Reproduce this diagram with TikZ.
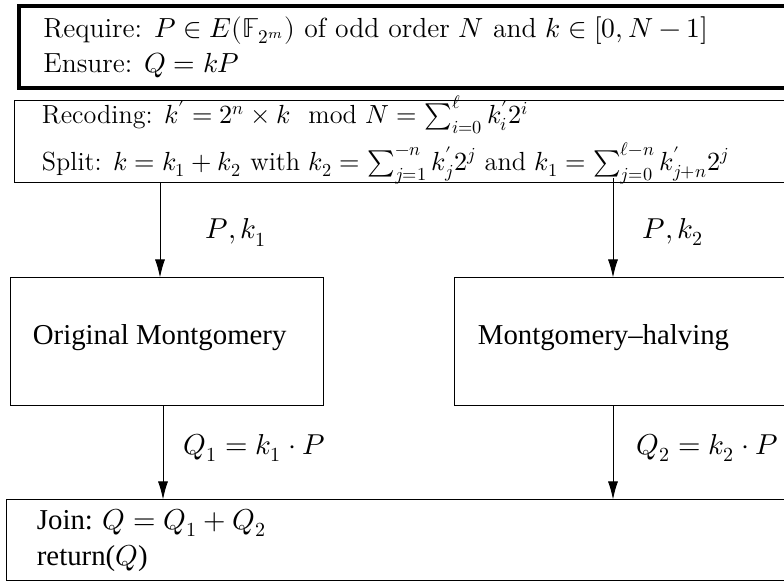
\documentclass[tikz,border=0pt]{standalone}
\usepackage{amsmath}
\usepackage{fontspec}
\usepackage{unicode-math}
\setmathfont{Latin Modern Math}
\newfontfamily\tms{Liberation Serif}
\usetikzlibrary{arrows.meta,positioning,calc}

\begin{document}
\begin{tikzpicture}[x=0.5pt, y=-0.5pt, every node/.style={font=\Large},
    box/.style={draw, line width=0.5pt, rectangle, inner sep=0pt},
    txt/.style={anchor=west, align=left, inner sep=0pt},
    alg/.style={txt, font=\fontsize{13.8}{17.5}\selectfont},
    arr/.style={-{Latex[length=9pt,width=5pt]}, line width=0.5pt},
    lbl/.style={inner sep=0pt}]
    \useasboundingbox (0,0) rectangle (784,583);
    \clip (0,0) rectangle (784,583);

    % input / recoding
    \node[box, line width=2pt, minimum width=390.5pt, minimum height=41pt] (req) at (409.5,47) {};
    \node[alg] (reqtxt) at ([xshift=13pt]req.west) {Require: $P \in E(\mathbb{F}_{2^m})$ of odd order $N$ and $k \in [0, N-1]$\\
        Ensure: $Q = kP$};
    \node[box, minimum width=393pt, minimum height=41pt] (rec) at (407,142) {};
    \node[alg, font=\fontsize{13.1}{17}\selectfont] (rectxt) at ([xshift=14pt, yshift=1pt]rec.west) {Recoding: $k' = 2^n \times k \mod N = \sum_{i=0}^{\ell} k'_i 2^i$\\[3pt]
        Split: $k = k_1 + k_2$ with $k_2 = \sum_{j=1}^{-n} k'_j 2^j$ and $k_1 = \sum_{j=0}^{\ell-n} k'_{j+n} 2^j$};

    % the two ladders
    \node[box, minimum width=156.5pt, minimum height=64pt] (orig) at (166.5,342) {};
    \node[txt, font=\Large\tms] (origtxt) at ([xshift=11.5pt, yshift=2pt]orig.west) {Original Montgomery};
    \node[box, minimum width=173pt, minimum height=64pt] (half) at (627,342) {};
    \node[txt, font=\Large\tms] (halftxt) at ([xshift=12pt, yshift=2pt]half.west) {Montgomery–halving};

    % output
    \node[box, minimum width=397pt, minimum height=40.5pt] (join) at (403,540.5) {};
    \node[txt, font=\Large\tms] (jointxt) at ([xshift=15.5pt]join.west) {Join: $Q = Q_1 + Q_2$\\
        return($Q$)};

    \draw[arr] (rec.south -| 160,0) -- node[lbl, right=22.5pt, yshift=-1pt] {$P, k_1$} (orig.north -| 160,0);
    \draw[arr] ($(rec.south -| 613,0)+(0,-5)$) -- node[lbl, right=14.5pt, yshift=-2pt] {$P, k_2$} (half.north -| 613,0);
    \draw[arr] (orig.south -| 163,0) -- node[lbl, right=10pt, yshift=2.5pt] {$Q_1 = k_1 \cdot P$} (join.north -| 163,0);
    \draw[arr] (half.south -| 613,0) -- node[lbl, right=11.5pt, yshift=2.5pt] {$Q_2 = k_2 \cdot P$} (join.north -| 613,0);
\end{tikzpicture}
\end{document}
